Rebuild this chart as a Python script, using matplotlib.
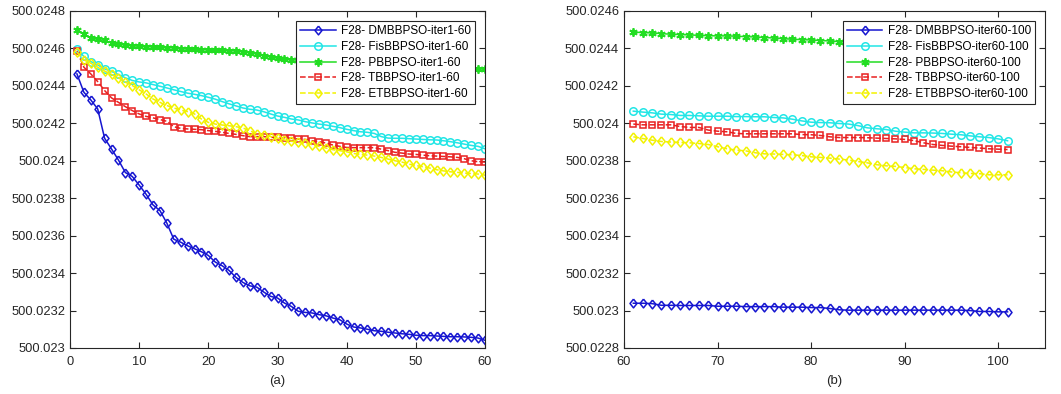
import matplotlib.pyplot as plt
import numpy as np
from matplotlib.ticker import FuncFormatter, MultipleLocator

plt.rcParams['font.family'] = ['Liberation Sans', 'DejaVu Sans']

# fitness values, stored in units of 1e-6 above 500.023
BASE = 500.023

iter_a = np.arange(1, 61)
dmbbpso_a = [1464, 1366, 1325, 1277, 1120, 1063, 1004, 937, 916, 870,
             821, 764, 734, 667, 581, 565, 546, 530, 514, 494,
             459, 439, 414, 377, 350, 332, 325, 299, 276, 267,
             240, 222, 196, 190, 187, 178, 172, 160, 151, 128,
             112, 107, 100, 92, 89, 84, 80, 76, 73, 68,
             66, 66, 64, 62, 60, 60, 59, 57, 53, 41]
fisbbpso_a = [1598, 1557, 1530, 1512, 1491, 1477, 1461, 1443, 1429, 1421,
              1416, 1407, 1398, 1389, 1379, 1370, 1361, 1355, 1348, 1339,
              1329, 1316, 1304, 1293, 1282, 1275, 1271, 1262, 1250, 1239,
              1232, 1223, 1218, 1209, 1202, 1196, 1191, 1184, 1177, 1168,
              1161, 1155, 1152, 1146, 1129, 1121, 1120, 1120, 1118, 1116,
              1114, 1112, 1111, 1107, 1102, 1096, 1089, 1082, 1077, 1064]
pbbpso_a = [1700, 1677, 1657, 1648, 1643, 1629, 1623, 1618, 1614, 1611,
            1609, 1607, 1605, 1604, 1602, 1598, 1596, 1595, 1593, 1591,
            1589, 1589, 1587, 1586, 1582, 1577, 1571, 1562, 1554, 1548,
            1543, 1539, 1537, 1535, 1533, 1531, 1529, 1527, 1525, 1523,
            1522, 1520, 1518, 1517, 1515, 1513, 1512, 1510, 1508, 1507,
            1505, 1503, 1501, 1500, 1498, 1497, 1495, 1493, 1491, 1488]
tbbpso_a = [1586, 1500, 1464, 1423, 1375, 1336, 1312, 1289, 1268, 1250,
            1237, 1229, 1220, 1211, 1182, 1173, 1170, 1168, 1166, 1161,
            1157, 1152, 1146, 1141, 1134, 1129, 1129, 1129, 1125, 1125,
            1123, 1120, 1116, 1114, 1107, 1102, 1095, 1084, 1077, 1071,
            1070, 1070, 1070, 1070, 1062, 1054, 1045, 1041, 1036, 1034,
            1030, 1027, 1025, 1023, 1021, 1018, 1011, 1000, 995, 993]
etbbpso_a = [1580, 1539, 1521, 1500, 1479, 1461, 1443, 1420, 1402, 1379,
             1357, 1330, 1312, 1295, 1282, 1271, 1262, 1250, 1223, 1205,
             1196, 1191, 1187, 1182, 1175, 1161, 1143, 1136, 1129, 1121,
             1111, 1104, 1098, 1093, 1086, 1077, 1068, 1059, 1054, 1048,
             1039, 1034, 1030, 1025, 1018, 1009, 1000, 993, 982, 975,
             968, 961, 952, 946, 941, 938, 934, 932, 929, 923]

iter_b = np.arange(61, 102)
dmbbpso_b = [39, 39, 37, 28, 28, 27, 27, 27, 27, 23,
             23, 23, 21, 21, 21, 21, 18, 18, 18, 16,
             16, 11, 4, 2, 2, 2, 2, 2, 2, 2,
             2, 2, 2, 2, 2, 2, 0, -5, -5, -7, -7]
fisbbpso_b = [1065, 1060, 1056, 1049, 1047, 1042, 1042, 1040, 1038, 1038,
              1038, 1036, 1036, 1035, 1035, 1031, 1029, 1022, 1013, 1006,
              1004, 1003, 999, 996, 988, 976, 971, 967, 958, 953,
              949, 949, 948, 946, 942, 939, 933, 928, 924, 917, 907]
pbbpso_b = [1488, 1484, 1483, 1479, 1476, 1474, 1472, 1470, 1468, 1467,
            1467, 1465, 1463, 1461, 1458, 1456, 1452, 1449, 1447, 1445,
            1442, 1440, 1436, 1433, 1431, 1429, 1427, 1425, 1423, 1421,
            1419, 1418, 1416, 1414, 1412, 1411, 1409, 1407, 1405, 1404, 1402]
tbbpso_b = [996, 992, 992, 992, 992, 983, 978, 978, 964, 958,
            955, 946, 944, 944, 944, 944, 944, 944, 940, 939,
            935, 928, 924, 924, 924, 923, 921, 919, 917, 914,
            908, 896, 887, 882, 878, 875, 871, 868, 864, 862, 860]
etbbpso_b = [928, 919, 910, 903, 900, 898, 896, 892, 887, 875,
             864, 857, 853, 843, 837, 836, 834, 832, 828, 821,
             818, 814, 809, 804, 796, 789, 779, 773, 770, 764,
             757, 754, 750, 747, 740, 736, 732, 731, 725, 725, 725]

# slightly tall diamond, like the default one in MATLAB
diamond = [(0, 1), (0.8, 0), (0, -1), (-0.8, 0), (0, 1)]

names = ['DMBBPSO', 'FisBBPSO', 'PBBPSO', 'TBBPSO', 'ETBBPSO']
styles = [
    dict(color='#1515d0', marker=diamond, ls='-', ms=6.3, mew=1.1),
    dict(color='#22e6e6', marker='o', ls='-', ms=5.4, mew=1.1),
    dict(color='#22dd22', marker=(6, 2, 0), ls='-', ms=6, mew=1.3),
    dict(color='#e82020', marker='s', ls='--', ms=5, mew=1.1),
    dict(color='#f2f200', marker=diamond, ls='--', ms=6.6, mew=1.1),
]


def fmt(v, pos):
    return f"{v:.4f}".rstrip('0').rstrip('.')


fig = plt.figure(figsize=(10.61, 3.94), dpi=100)
ax_a = fig.add_axes([0.066, 0.1168, 0.3911, 0.8553])
ax_b = fig.add_axes([0.5881, 0.1168, 0.3968, 0.8553])

panels = [
    (ax_a, iter_a, [dmbbpso_a, fisbbpso_a, pbbpso_a, tbbpso_a, etbbpso_a], 'iter1-60', '(a)'),
    (ax_b, iter_b, [dmbbpso_b, fisbbpso_b, pbbpso_b, tbbpso_b, etbbpso_b], 'iter60-100', '(b)'),
]

for ax, x, series, tag, cap in panels:
    for name, vals, st in zip(names, series, styles):
        y = BASE + np.array(vals) * 1e-6
        ax.plot(x, y, lw=1.1, mfc='none', label=f'F28- {name}-{tag}', **st)
    ax.set_xlabel(cap, fontsize=9.5, color='#262626', labelpad=5)
    ax.yaxis.set_major_locator(MultipleLocator(0.0002))
    ax.yaxis.set_major_formatter(FuncFormatter(fmt))
    ax.tick_params(direction='in', top=True, right=True, length=4,
                   labelsize=9.3, colors='#262626', width=0.8)
    ax.tick_params(axis='x', pad=6)
    for sp in ax.spines.values():
        sp.set_color('#262626')
        sp.set_linewidth(0.8)
    leg = ax.legend(loc='upper right', fontsize=8.5, handlelength=3.0,
                    frameon=True, fancybox=False, framealpha=1,
                    edgecolor='#262626', borderaxespad=0.85,
                    labelspacing=0.32, borderpad=0.35, handletextpad=0.45)
    leg.get_frame().set_linewidth(0.8)

ax_a.set_xlim(0, 60)
ax_a.set_ylim(500.023, 500.0248)
ax_a.xaxis.set_major_locator(MultipleLocator(10))
ax_b.set_xlim(60, 105)
ax_b.set_ylim(500.0228, 500.0246)
ax_b.set_xticks([60, 70, 80, 90, 100])

fig.savefig('out.png', dpi=100)
